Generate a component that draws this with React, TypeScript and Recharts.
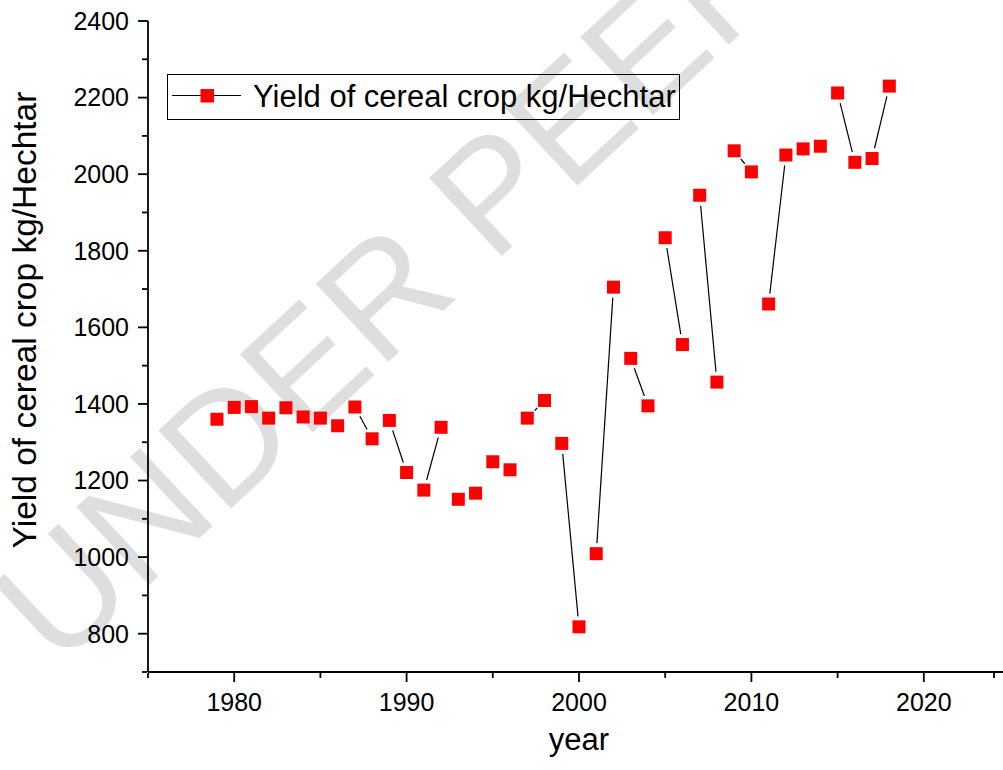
import React from "react";
import { ComposedChart, Line, XAxis, YAxis, Legend } from "recharts";

// cereal yield per year
const years = [
  1979, 1980, 1981, 1982, 1983, 1984, 1985, 1986, 1987, 1988,
  1989, 1990, 1991, 1992, 1993, 1994, 1995, 1996, 1997, 1998,
  1999, 2000, 2001, 2002, 2003, 2004, 2005, 2006, 2007, 2008,
  2009, 2010, 2011, 2012, 2013, 2014, 2015, 2016, 2017, 2018,
];
const yieldKgPerHa = [
  1360, 1391, 1393, 1363, 1390, 1366, 1363, 1343, 1392, 1309,
  1357, 1221, 1175, 1339, 1151, 1167, 1249, 1228, 1363, 1409,
  1297, 818, 1009, 1705, 1519, 1395, 1834, 1555, 1945, 1457,
  2061, 2006, 1661, 2050, 2066, 2073, 2212, 2031, 2041, 2230,
];

const xMajorTicks = [1980, 1990, 2000, 2010, 2020];
const xMinorTicks = [1975, 1985, 1995, 2005, 2015, 2025];
const yMajorTicks = [800, 1000, 1200, 1400, 1600, 1800, 2000, 2200, 2400];
const yMinorTicks = [700, 900, 1100, 1300, 1500, 1700, 1900, 2100, 2300];

const seriesName = "Yield of cereal crop kg/Hechtar";

const data = years.map((year, i) => ({ year, value: yieldKgPerHa[i] }));

const FONT = "'Liberation Sans', Arial, sans-serif";
const GAP = 10.5; // origin-style gap between connecting line and symbol
const SQ = 13;
const AX = 1.8;

let seen: { x: number; y: number }[] = [];

// the original plot joins the points two by two (1979-80, 1981-82, ...),
// each segment stopping short of the symbols
function GapDot(props: any) {
  const { cx, cy, index, points } = props;
  if (index === 0) seen = [];
  seen[index] = { x: cx, y: cy };
  let prev: { x: number; y: number } | null = null;
  if (index % 2 === 1) {
    const p = points && points[index - 1];
    prev = p && typeof p.x === "number" ? { x: p.x, y: p.y } : seen[index - 1];
  }
  let seg = null;
  if (prev) {
    const dx = cx - prev.x;
    const dy = cy - prev.y;
    const len = Math.hypot(dx, dy);
    if (len > 2 * GAP) {
      const ux = dx / len;
      const uy = dy / len;
      seg = (
        <line
          x1={prev.x + ux * GAP}
          y1={prev.y + uy * GAP}
          x2={cx - ux * GAP}
          y2={cy - uy * GAP}
          stroke="#000"
          strokeWidth={1.2}
        />
      );
    }
  }
  return (
    <g key={`pt-${index}`}>
      {seg}
      <rect x={cx - SQ / 2} y={cy - SQ / 2} width={SQ} height={SQ} fill="#ff0000" />
    </g>
  );
}

// bottom ticks: library gives x = tick position, y = axis line
const xTick = (len: number, withLabel: boolean) => (props: any) => {
  const { x, y, payload, index } = props;
  return (
    <g key={`xt-${len}-${index}`}>
      <line x1={x} y1={y} x2={x} y2={y + len} stroke="#000" strokeWidth={AX} />
      {withLabel && (
        <text
          x={x}
          y={y + len + 11}
          dy="0.71em"
          textAnchor="middle"
          fontSize={25}
          fontFamily={FONT}
          fill="#000"
        >
          {payload.value}
        </text>
      )}
    </g>
  );
};

// left ticks: library gives x = axis line, y = tick position
const yTick = (len: number, withLabel: boolean) => (props: any) => {
  const { x, y, payload, index } = props;
  return (
    <g key={`yt-${len}-${index}`}>
      <line x1={x - len} y1={y} x2={x} y2={y} stroke="#000" strokeWidth={AX} />
      {withLabel && (
        <text
          x={x - len - 9}
          y={y}
          dy="0.355em"
          textAnchor="end"
          fontSize={25}
          fontFamily={FONT}
          fill="#000"
        >
          {payload.value}
        </text>
      )}
    </g>
  );
};

const renderLegend = () => (
  <svg width={514} height={47} style={{ display: "block" }}>
    <rect x={0.5} y={0.5} width={512} height={45} fill="none" stroke="#000" strokeWidth={1} />
    <line x1={5} y1={21.5} x2={74} y2={21.5} stroke="#000" strokeWidth={1.2} />
    <rect x={33.5} y={15} width={13.5} height={13.5} fill="#ff0000" />
    <text x={86} y={32.5} fontSize={31} fontFamily={FONT} fill="#000">
      {seriesName}
    </text>
  </svg>
);

export default function App() {
  const axisStroke = { stroke: "#000", strokeWidth: AX };
  return (
    <div
      style={{
        position: "absolute",
        left: 0,
        top: 0,
        width: 1003,
        height: 770,
        overflow: "hidden",
        background: "#fff",
      }}
    >
      {/* watermark */}
      <svg width={1003} height={770} style={{ position: "absolute", left: 0, top: 0 }}>
        <text
          x={58}
          y={670}
          fontSize={155}
          fontFamily={FONT}
          fill="#dedede"
          transform="rotate(-43 58 670)"
        >
          UNDER PEER REVIEW
        </text>
      </svg>

      <div style={{ position: "absolute", left: 0, top: 0 }}>
        <ComposedChart
          width={1010}
          height={770}
          data={data}
          margin={{ top: 21, right: 0, bottom: 96, left: 146 }}
        >
          <XAxis
            dataKey="year"
            type="number"
            domain={[1975, 2025]}
            ticks={xMajorTicks}
            allowDataOverflow
            height={1}
            tickSize={0}
            tickMargin={0}
            axisLine={axisStroke}
            tickLine={false}
            tick={xTick(10, true)}
          />
          <XAxis
            xAxisId="minor"
            dataKey="year"
            type="number"
            domain={[1975, 2025]}
            ticks={xMinorTicks}
            allowDataOverflow
            height={1}
            tickSize={0}
            tickMargin={0}
            axisLine={false}
            tickLine={false}
            tick={xTick(5, false)}
          />
          <YAxis
            type="number"
            domain={[700, 2400]}
            ticks={yMajorTicks}
            allowDataOverflow
            width={1}
            tickSize={0}
            tickMargin={0}
            axisLine={axisStroke}
            tickLine={false}
            tick={yTick(10, true)}
          />
          <YAxis
            yAxisId="minor"
            type="number"
            domain={[700, 2400]}
            ticks={yMinorTicks}
            allowDataOverflow
            width={1}
            tickSize={0}
            tickMargin={0}
            axisLine={false}
            tickLine={false}
            tick={yTick(5, false)}
          />
          <Legend
            content={renderLegend}
            layout="horizontal"
            verticalAlign="middle"
            align="center"
            wrapperStyle={{ left: 167, top: 74, width: 514, height: 47 }}
          />
          <Line
            dataKey="value"
            name={seriesName}
            stroke="#000"
            strokeWidth={0}
            strokeOpacity={0}
            dot={GapDot}
            activeDot={false}
            isAnimationActive={false}
          />
        </ComposedChart>
      </div>

      {/* axis titles */}
      <svg
        width={1003}
        height={770}
        style={{ position: "absolute", left: 0, top: 0, pointerEvents: "none" }}
      >
        <text
          x={36}
          y={320}
          fontSize={33.5}
          fontFamily={FONT}
          fill="#000"
          textAnchor="middle"
          transform="rotate(-90 36 320)"
        >
          Yield of cereal crop kg/Hechtar
        </text>
        <text x={579} y={750} fontSize={31} fontFamily={FONT} fill="#000" textAnchor="middle">
          year
        </text>
      </svg>
    </div>
  );
}
